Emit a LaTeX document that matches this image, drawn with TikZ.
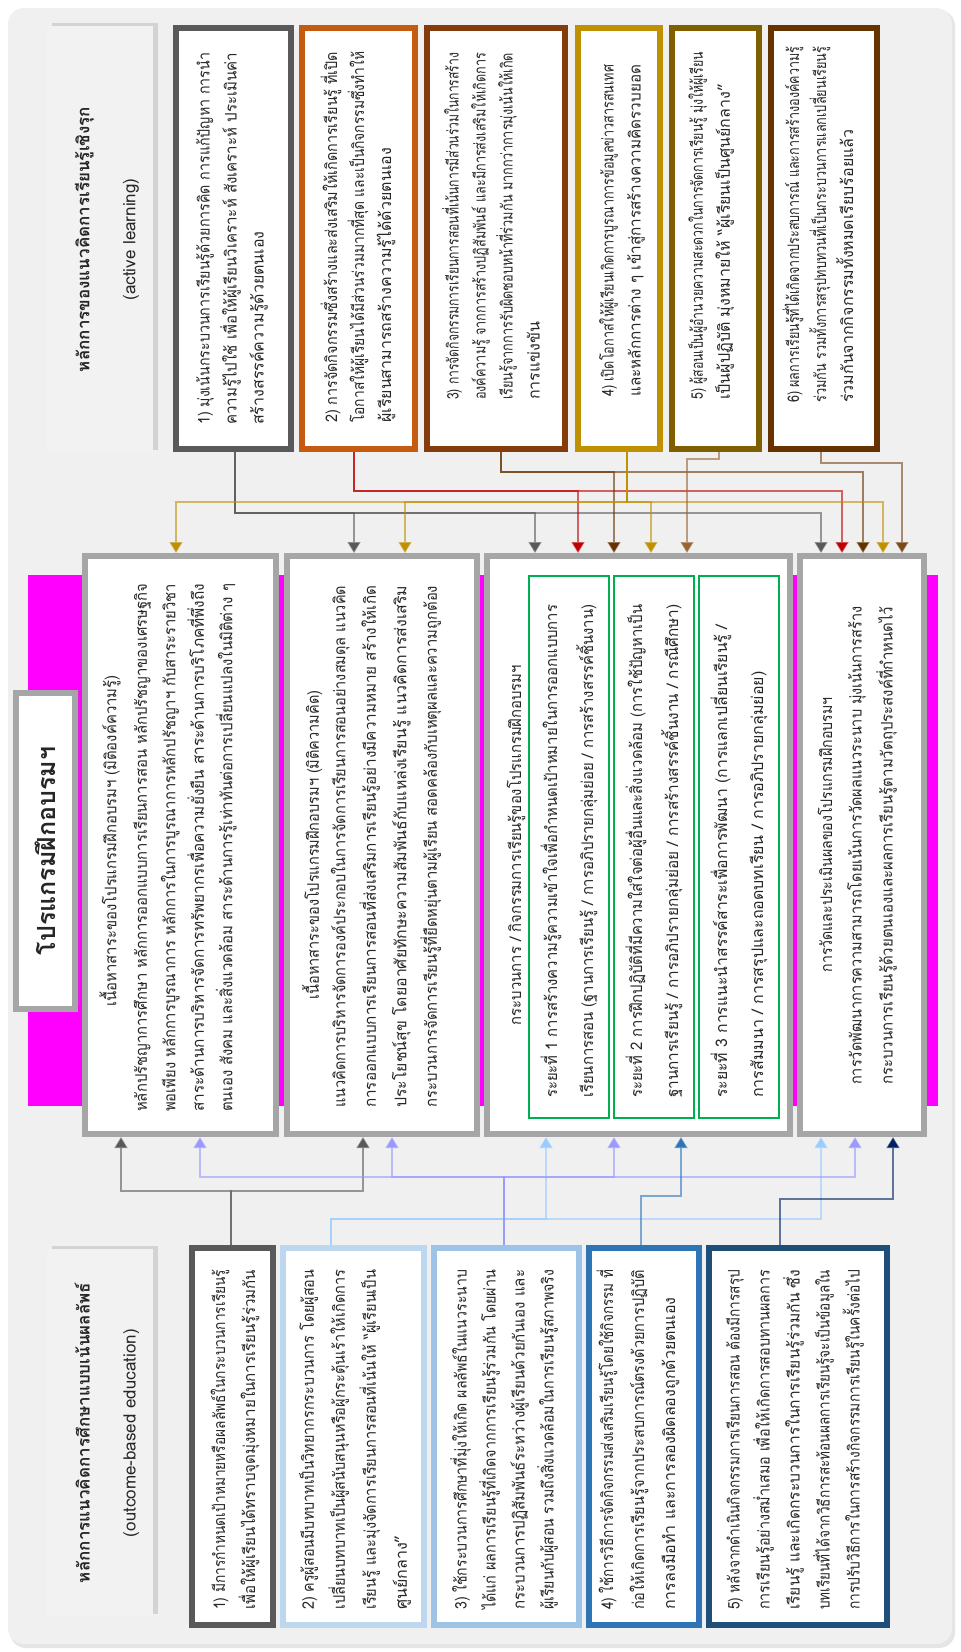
\documentclass[tikz,border=0pt]{standalone}
\usepackage{fontspec}
\usepackage{graphicx}
\setmainfont[Script=Thai]{Loma}
\usetikzlibrary{arrows.meta,shadows}
\definecolor{bgc}{HTML}{F0F0F0}
\definecolor{hdc}{HTML}{F2F2F2}
\definecolor{txc}{HTML}{262626}
\definecolor{ca1}{HTML}{595959}
\definecolor{ca2}{HTML}{C55A11}
\definecolor{ca3}{HTML}{843C0C}
\definecolor{ca4}{HTML}{BF9000}
\definecolor{ca5}{HTML}{7F6000}
\definecolor{ca6}{HTML}{663300}
\definecolor{co1}{HTML}{595959}
\definecolor{co2}{HTML}{BDD7EE}
\definecolor{co3}{HTML}{9DC3E6}
\definecolor{co4}{HTML}{2E75B6}
\definecolor{co5}{HTML}{1F4E79}
\definecolor{pgc}{HTML}{A6A6A6}
\definecolor{magc}{HTML}{FF00FF}
\definecolor{grc}{HTML}{00B050}
\definecolor{kgray}{HTML}{595959}
\definecolor{kred}{HTML}{C00000}
\definecolor{kbrown}{HTML}{663300}
\definecolor{kgold}{HTML}{BF9000}
\definecolor{klbrown}{HTML}{996633}
\definecolor{kdbrown}{HTML}{7B4A1A}
\definecolor{klav}{HTML}{9999FF}
\definecolor{klblue}{HTML}{99CCFF}
\definecolor{kmblue}{HTML}{2E75B6}
\definecolor{knavy}{HTML}{002060}
\newcommand{\fbody}{\fontsize{16}{27}\selectfont}
\newcommand{\fhead}{\fontsize{17}{46}\selectfont}
\newsavebox{\lnbx}
% justified line of width #1 (stretch spaces, or condense if too long)
\newcommand{\jl}[2]{\sbox{\lnbx}{#2}\ifdim\wd\lnbx>#1pt\relax\resizebox{#1pt}{\height}{\usebox{\lnbx}}\else\hbox to #1pt{#2}\fi}
% natural line, condensed only if longer than #1
\newcommand{\nl}[2]{\sbox{\lnbx}{#2}\ifdim\wd\lnbx>#1pt\relax\resizebox{#1pt}{\height}{\usebox{\lnbx}}\else\usebox{\lnbx}\fi}
% line set to exactly width #1
\newcommand{\fw}[2]{\resizebox{#1pt}{\height}{#2}}
\begin{document}
\begin{tikzpicture}[x=1pt,y=-1pt,
  cbox/.style={draw=#1, line width=6pt, fill=white, inner sep=0pt, outer sep=3pt},
  gbox/.style={draw=grc, line width=1.8pt, inner sep=0pt, outer sep=0.9pt},
  hbox/.style={fill=hdc, inner sep=0pt, drop shadow={shadow xshift=5pt, shadow yshift=3pt, opacity=.25}},
  tx/.style={rotate=90, anchor=west, align=left, inner sep=0pt, font=\fbody, text=txc},
  tt/.style={rotate=90, anchor=center, align=center, inner sep=0pt, font=\fbody, text=txc},
  ht/.style={rotate=90, anchor=center, align=center, inner sep=0pt, font=\fhead, text=txc},
  cn/.style={draw=#1, line width=1.5pt, draw opacity=.6, -{Triangle[width=13pt,length=11pt,fill=#1]}}
]
\useasboundingbox (0,0) rectangle (961,1652);
\fill[white] (0,0) rectangle (961,1652);
\fill[black!10, rounded corners=16pt] (10,10) rectangle (955,1648);
\fill[bgc, rounded corners=16pt] (8,8) rectangle (952,1644);

% magenta band
\fill[magc] (28,575) rectangle (938,1106);

% headers
\node[hbox, minimum width=106pt, minimum height=427pt] (hA) at (100,239.5) {};
\node[ht] (hAt) at (107,239.5) {\textbf{หลักการของแนวคิดการเรียนรู้เชิงรุก}\\(active learning)};
\node[hbox, minimum width=106pt, minimum height=368pt] (hO) at (100,1433) {};
\node[ht] (hOt) at (107,1433) {\textbf{หลักการแนวคิดการศึกษาแบบเน้นผลลัพธ์}\\(outcome-based education)};
\node[cbox=pgc, minimum width=59pt, minimum height=316pt, drop shadow={shadow xshift=5pt, shadow yshift=3pt, opacity=.25}] (hP) at (45.5,851) {};
\node[ht, font=\fontsize{25}{30}\selectfont\bfseries] (hPt) at (45.5,851) {โปรแกรมฝึกอบรมฯ};

% active learning boxes
\node[cbox=ca1, minimum width=115pt, minimum height=421pt] (a1) at (233.5,238.5) {};
\node[cbox=ca2, minimum width=113pt, minimum height=421pt] (a2) at (358.5,238.5) {};
\node[cbox=ca3, minimum width=138pt, minimum height=421pt] (a3) at (496,238.5) {};
\node[cbox=ca4, minimum width=82pt, minimum height=421pt] (a4) at (619,238.5) {};
\node[cbox=ca5, minimum width=87pt, minimum height=421pt] (a5) at (715.5,238.5) {};
\node[cbox=ca6, minimum width=106pt, minimum height=421pt] (a6) at (824,238.5) {};

\node[tx] (a1t) at (232,425) {\jl{372}{1) มุ่งเน้นกระบวนการเรียนรู้ด้วยการคิด การแก้ปัญหา การนำ}\\\jl{372}{ความรู้ไปใช้ เพื่อให้ผู้เรียนวิเคราะห์ สังเคราะห์ ประเมินค่า}\\\nl{372}{สร้างสรรค์ความรู้ด้วยตนเอง}};
\node[tx] (a2t) at (358,423) {\jl{371}{2) การจัดกิจกรรมซึ่งสร้างและส่งเสริมให้เกิดการเรียนรู้ ที่เปิด}\\\jl{371}{โอกาสให้ผู้เรียนได้มีส่วนร่วมมากที่สุด และเป็นกิจกรรมซึ่งทำให้}\\\nl{371}{ผู้เรียนสามารถสร้างความรู้ได้ด้วยตนเอง}};
\node[tx] (a3t) at (491,400) {\jl{347}{3) การจัดกิจกรรมการเรียนการสอนที่เน้นการมีส่วนร่วมในการสร้าง}\\\jl{347}{องค์ความรู้ จากการสร้างปฏิสัมพันธ์ และมีการส่งเสริมให้เกิดการ}\\\jl{347}{เรียนรู้จากการรับผิดชอบหน้าที่ร่วมกัน มากกว่าการมุ่งเน้นให้เกิด}\\\nl{347}{การแข่งขัน}};
\node[tx] (a4t) at (622,397) {\jl{332}{4) เปิดโอกาสให้ผู้เรียนเกิดการบูรณาการข้อมูลข่าวสารสนเทศ}\\\nl{332}{และหลักการต่าง ๆ เข้าสู่การสร้างความคิดรวบยอด}};
\node[tx] (a5t) at (711,400) {\jl{348}{5) ผู้สอนเป็นผู้อำนวยความสะดวกในการจัดการเรียนรู้ มุ่งให้ผู้เรียน}\\\nl{348}{เป็นผู้ปฏิบัติ มุ่งหมายให้ “ผู้เรียนเป็นศูนย์กลาง”}};
\node[tx] (a6t) at (818,403) {\jl{356}{6) ผลการเรียนรู้ที่ได้เกิดจากประสบการณ์ และการสร้างองค์ความรู้}\\\jl{356}{ร่วมกัน รวมทั้งการสรุปทบทวนที่เป็นกระบวนการแลกเปลี่ยนเรียนรู้}\\\nl{356}{ร่วมกันจากกิจกรรมทั้งหมดเรียบร้อยแล้ว}};

% program boxes
\node[cbox=pgc, minimum width=191pt, minimum height=578pt] (p1) at (180.5,845) {};
\node[cbox=pgc, minimum width=190pt, minimum height=578pt] (p2) at (382,845) {};
\node[cbox=pgc, minimum width=303pt, minimum height=578pt] (p3) at (638.5,845) {};
\node[cbox=pgc, minimum width=124pt, minimum height=578pt] (p4) at (862,845) {};

\node[tt] (p1h) at (110,841) {\fw{331}{เนื้อหาสาระของโปรแกรมฝึกอบรมฯ (มิติองค์ความรู้)}};
\node[tx, font=\fontsize{16}{28.5}\selectfont] (p1t) at (185,1112) {\jl{528}{หลักปรัชญาการศึกษา หลักการออกแบบการเรียนการสอน หลักปรัชญาของเศรษฐกิจ}\\\jl{528}{พอเพียง หลักการบูรณาการ หลักการในการบูรณาการหลักปรัชญาฯ กับสาระรายวิชา}\\\jl{528}{สาระด้านการบริหารจัดการทรัพยากรเพื่อความยั่งยืน สาระด้านการบริโภคที่พึ่งถึง}\\\jl{528}{ตนเอง สังคม และสิ่งแวดล้อม สาระด้านการรู้เท่าทันต่อการเปลี่ยนแปลงในมิติต่าง ๆ}};
\node[tt] (p2h) at (312,845) {\fw{309}{เนื้อหาสาระของโปรแกรมฝึกอบรมฯ (มิติความคิด)}};
\node[tx, font=\fontsize{16}{30.5}\selectfont] (p2t) at (386,1108) {\jl{522}{แนวคิดการบริหารจัดการองค์ประกอบในการจัดการเรียนการสอนอย่างสมดุล แนวคิด}\\\jl{522}{การออกแบบการเรียนการสอนที่ส่งเสริมการเรียนรู้อย่างมีความหมาย สร้างให้เกิด}\\\jl{522}{ประโยชน์สุข โดยอาศัยทักษะความสัมพันธ์กับแหล่งเรียนรู้ แนวคิดการส่งเสริม}\\\jl{522}{กระบวนการจัดการเรียนรู้ที่ยืดหยุ่นตามผู้เรียน สอดคล้องกับเหตุผลและความถูกต้อง}};
\node[tt] (p3h) at (516,845) {\fw{360}{กระบวนการ / กิจกรรมการเรียนรู้ของโปรแกรมฝึกอบรมฯ}};
\node[gbox, minimum width=80pt, minimum height=542pt] (g1) at (569,847) {};
\node[gbox, minimum width=80pt, minimum height=542pt] (g2) at (654,847) {};
\node[gbox, minimum width=80pt, minimum height=542pt] (g3) at (739,847) {};
\node[tx, font=\fontsize{16}{36}\selectfont] (g1t) at (569,1098) {\jl{493}{ระยะที่ 1 การสร้างความรู้ความเข้าใจเพื่อกำหนดเป้าหมายในการออกแบบการ}\\\jl{493}{เรียนการสอน (ฐานการเรียนรู้ / การอภิปรายกลุ่มย่อย / การสร้างสรรค์ชิ้นงาน)}};
\node[tx, font=\fontsize{16}{36}\selectfont] (g2t) at (654,1098) {\jl{493}{ระยะที่ 2 การฝึกปฏิบัติที่มีความใส่ใจต่อผู้อื่นและสิ่งแวดล้อม (การใช้ปัญหาเป็น}\\\jl{493}{ฐานการเรียนรู้ / การอภิปรายกลุ่มย่อย / การสร้างสรรค์ชิ้นงาน / กรณีศึกษา)}};
\node[tx, font=\fontsize{16}{36}\selectfont] (g3t) at (739,1098) {\jl{473}{ระยะที่ 3 การแนะนำสรรค์สาระเพื่อการพัฒนา (การแลกเปลี่ยนเรียนรู้ /}\\\nl{473}{การสัมมนา / การสรุปและถอดบทเรียน / การอภิปรายกลุ่มย่อย)}};
\node[tt] (p4h) at (825,835) {\fw{275}{การวัดและประเมินผลของโปรแกรมฝึกอบรมฯ}};
\node[tx, font=\fontsize{16}{31}\selectfont] (p4t) at (872,1085) {\jl{478}{การวัดพัฒนาการความสามารถโดยเน้นการวัดผลแนวระนาบ มุ่งเน้นการสร้าง}\\\jl{478}{กระบวนการเรียนรู้ด้วยตนเองและผลการเรียนรู้ตามวัตถุประสงค์ที่กำหนดไว้}};

% outcome boxes
\node[cbox=co1, minimum width=81pt, minimum height=377pt] (o1) at (232.5,1436.5) {};
\node[cbox=co2, minimum width=141pt, minimum height=377pt] (o2) at (353.5,1436.5) {};
\node[cbox=co3, minimum width=145pt, minimum height=377pt] (o3) at (506.5,1436.5) {};
\node[cbox=co4, minimum width=110pt, minimum height=377pt] (o4) at (644,1436.5) {};
\node[cbox=co5, minimum width=178pt, minimum height=377pt] (o5) at (798,1436.5) {};

\node[tx, font=\fontsize{16}{30}\selectfont] (o1t) at (235,1610) {\jl{340}{1) มีการกำหนดเป้าหมายหรือผลลัพธ์ในกระบวนการเรียนรู้}\\\jl{340}{เพื่อให้ผู้เรียนได้ทราบจุดมุ่งหมายในการเรียนรู้ร่วมกัน}};
\node[tx, font=\fontsize{16}{31}\selectfont] (o2t) at (355,1610) {\jl{340}{2) ครูผู้สอนมีบทบาทเป็นวิทยากรกระบวนการ โดยผู้สอน}\\\jl{340}{เปลี่ยนบทบาทเป็นผู้สนับสนุนหรือผู้กระตุ้นเร้าให้เกิดการ}\\\jl{340}{เรียนรู้ และมุ่งจัดการเรียนการสอนที่เน้นให้ “ผู้เรียนเป็น}\\\nl{340}{ศูนย์กลาง”}};
\node[tx, font=\fontsize{16}{29}\selectfont] (o3t) at (504,1610) {\jl{340}{3) ใช้กระบวนการศึกษาที่มุ่งให้เกิด ผลลัพธ์ในแนวระนาบ}\\\jl{340}{ได้แก่ ผลการเรียนรู้ที่เกิดจากการเรียนรู้ร่วมกัน โดยผ่าน}\\\jl{340}{กระบวนการปฏิสัมพันธ์ระหว่างผู้เรียนด้วยกันเอง และ}\\\jl{340}{ผู้เรียนกับผู้สอน รวมถึงสิ่งแวดล้อมในการเรียนรู้สภาพจริง}};
\node[tx, font=\fontsize{16}{31}\selectfont] (o4t) at (638,1610) {\jl{340}{4) ใช้การวิธีการจัดกิจกรรมส่งเสริมเรียนรู้โดยใช้กิจกรรม ที่}\\\jl{340}{ก่อให้เกิดการเรียนรู้จากประสบการณ์ตรงด้วยการปฏิบัติ}\\\nl{340}{การลงมือทำ และการลองผิดลองถูกด้วยตนเอง}};
\node[tx, font=\fontsize{16}{30}\selectfont] (o5t) at (795,1610) {\jl{340}{5) หลังจากดำเนินกิจกรรมการเรียนการสอน ต้องมีการสรุป}\\\jl{340}{การเรียนรู้อย่างสม่ำเสมอ เพื่อให้เกิดการสอบทานผลการ}\\\jl{340}{เรียนรู้ และเกิดกระบวนการในการเรียนรู้ร่วมกัน ซึ่ง}\\\jl{340}{บทเรียนที่ได้จากวิธีการสะท้อนผลการเรียนรู้จะเป็นข้อมูลใน}\\\nl{340}{การปรับวิธีการในการสร้างกิจกรรมการเรียนรู้ในครั้งต่อไป}};

% connectors: active -> program
\foreach \t/\xx in {p2/354,p3/535,p4/821}
  \draw[cn=kgray] (a1.south -| 235,0) -- (235,513) -| (\t.north -| \xx,0);
\foreach \t/\xx in {p3/578,p4/842}
  \draw[cn=kred] (a2.south -| 354,0) -- (354,491) -| (\t.north -| \xx,0);
\foreach \t/\xx in {p3/614,p4/863}
  \draw[cn=kbrown] (a3.south -| 501,0) -- (501,472) -| (\t.north -| \xx,0);
\foreach \t/\xx in {p1/176,p2/405,p3/651,p4/883}
  \draw[cn=kgold] (a4.south -| 627,0) -- (627,502) -| (\t.north -| \xx,0);
\draw[cn=klbrown] (a5.south -| 719,0) -- (719,459) -| (p3.north -| 687,0);
\draw[cn=kdbrown] (a6.south -| 821,0) -- (821,463) -| (p4.north -| 902,0);

% connectors: outcome -> program
\foreach \t/\xx in {p1/121,p2/363}
  \draw[cn=kgray] (o1.north -| 231,0) -- (231,1191) -| (\t.south -| \xx,0);
\foreach \t/\xx in {p3/546,p4/821}
  \draw[cn=klblue] (o2.north -| 331,0) -- (331,1219) -| (\t.south -| \xx,0);
\foreach \t/\xx in {p1/200,p2/392,p3/614,p4/855}
  \draw[cn=klav] (o3.north -| 504,0) -- (504,1177) -| (\t.south -| \xx,0);
\draw[cn=kmblue] (o4.north -| 641,0) -- (641,1196) -| (p3.south -| 681,0);
\draw[cn=knavy] (o5.north -| 780,0) -- (780,1199) -| (p4.south -| 893,0);
\end{tikzpicture}
\end{document}
